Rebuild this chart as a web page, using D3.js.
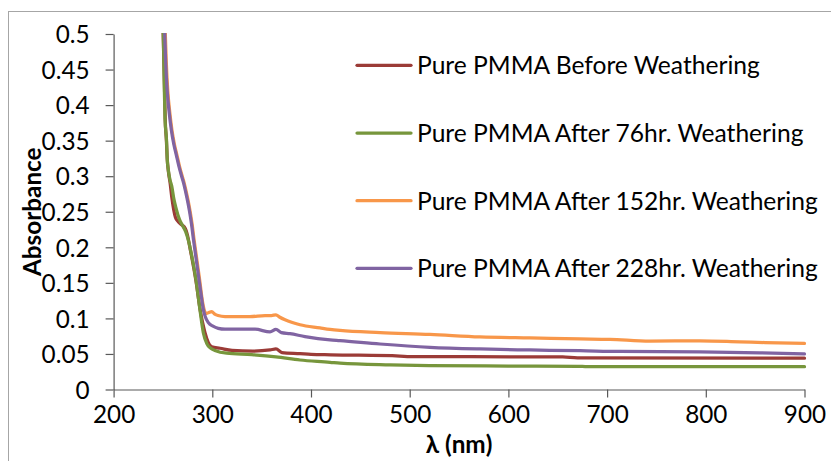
<!DOCTYPE html>
<html>
<head>
<meta charset="utf-8">
<script src="https://cdn.jsdelivr.net/npm/d3@7"></script>
<style>
  html, body { margin: 0; padding: 0; background: #fff; }
  svg { display: block; }
</style>
</head>
<body>
<svg id="chart" width="831" height="461"></svg>
<script>
// UV-Vis absorbance spectra of pure PMMA films, [wavelength nm, absorbance]
const pmmaBefore = [
  [248.5, 0.56], [250.2, 0.50], [251.5, 0.43], [252.3, 0.38], [253.5, 0.35],
  [254.3, 0.325], [255.5, 0.307], [257.3, 0.29], [259.0, 0.27], [262.7, 0.242],
  [265.5, 0.236], [268.5, 0.232], [271.5, 0.229], [273.4, 0.224], [275.0, 0.216],
  [277.8, 0.196], [283.3, 0.154], [287.7, 0.112], [292.6, 0.080], [296.0, 0.066],
  [299.4, 0.060], [307.8, 0.058], [320.0, 0.055], [341.2, 0.054], [358.5, 0.0556],
  [364.5, 0.057], [370.6, 0.052], [388.9, 0.0505], [400.0, 0.0495], [420.0, 0.0488],
  [490.0, 0.0470], [500.0, 0.0462], [622.0, 0.0460], [655.0, 0.0458], [670.0, 0.0445],
  [900.0, 0.0440]
];
const pmma76h = [
  [248.7, 0.56], [250.4, 0.50], [251.3, 0.43], [252.1, 0.38], [253.6, 0.351],
  [254.4, 0.323], [255.4, 0.309], [257.1, 0.295], [258.9, 0.286], [261.2, 0.267],
  [262.9, 0.257], [266.8, 0.239], [270.5, 0.229], [273.0, 0.222], [275.7, 0.210],
  [278.0, 0.196], [283.5, 0.154], [287.5, 0.112], [290.9, 0.080], [294.3, 0.065],
  [298.5, 0.058], [302.7, 0.055], [314.6, 0.051], [340.0, 0.049], [364.5, 0.046],
  [388.9, 0.0415], [419.3, 0.0383], [429.4, 0.037], [480.0, 0.0345], [520.0, 0.0335],
  [600.0, 0.033], [670.0, 0.0327], [680.0, 0.0322], [900.0, 0.0320]
];
const pmma152h = [
  [251.4, 0.56], [252.4, 0.50], [253.4, 0.46], [254.9, 0.42], [256.9, 0.39],
  [259.1, 0.365], [261.6, 0.345], [264.1, 0.33], [266.6, 0.315], [269.1, 0.302],
  [271.6, 0.29], [273.6, 0.278], [275.6, 0.265], [277.6, 0.25], [279.6, 0.232],
  [281.6, 0.21], [283.6, 0.19], [285.6, 0.17], [287.6, 0.15], [289.6, 0.128],
  [291.6, 0.113], [293.5, 0.107], [296.0, 0.108], [299.4, 0.1096], [302.5, 0.106],
  [305.8, 0.104], [312.9, 0.1025], [338.2, 0.1025], [353.4, 0.104], [360.0, 0.104],
  [364.5, 0.105], [368.0, 0.102], [373.7, 0.098], [388.9, 0.091], [409.1, 0.0866],
  [419.3, 0.0845], [429.4, 0.083], [470.0, 0.080], [520.5, 0.0775], [571.2, 0.074],
  [621.8, 0.0725], [672.5, 0.0712], [702.9, 0.0705], [743.4, 0.068], [794.0, 0.0685],
  [834.5, 0.067], [860.0, 0.066], [900.0, 0.0648]
];
const pmma228h = [
  [250.8, 0.56], [251.8, 0.50], [252.8, 0.46], [254.3, 0.42], [256.3, 0.39],
  [258.5, 0.365], [261.0, 0.345], [263.5, 0.33], [266.0, 0.315], [268.5, 0.302],
  [271.0, 0.29], [273.0, 0.278], [275.0, 0.265], [277.0, 0.25], [279.0, 0.232],
  [281.0, 0.21], [283.0, 0.19], [285.0, 0.17], [287.0, 0.15], [289.0, 0.13],
  [291.0, 0.112], [293.0, 0.102], [296.0, 0.094], [300.7, 0.089], [306.0, 0.086],
  [312.9, 0.0848], [343.3, 0.0848], [358.5, 0.081], [364.5, 0.0845], [370.0, 0.080],
  [378.7, 0.0785], [393.9, 0.0744], [419.3, 0.0697], [429.4, 0.0687], [469.9, 0.064],
  [520.5, 0.0594], [571.2, 0.057], [621.8, 0.0556], [672.5, 0.0546], [713.0, 0.0535],
  [794.0, 0.053], [854.8, 0.0515], [900.0, 0.050]
];

const seriesNames = [
  "Pure PMMA Before Weathering",
  "Pure PMMA After 76hr. Weathering",
  "Pure PMMA After 152hr. Weathering",
  "Pure PMMA After 228hr. Weathering"
];
const seriesColors = ["#9b3b37", "#77963c", "#f8974a", "#8064a2"];
const seriesData = [pmmaBefore, pmma76h, pmma152h, pmma228h];

const xTicks = [200, 300, 400, 500, 600, 700, 800, 900];
const yTicks = [0, 0.05, 0.1, 0.15, 0.2, 0.25, 0.3, 0.35, 0.4, 0.45, 0.5];
const xTitle = "λ (nm)";
const yTitle = "Absorbance";

// ---- layout ----
const W = 831, H = 461;
const plot = { left: 113.6, right: 804.5, top: 34, bottom: 389.5 };
const font = "Lato, 'Open Sans', 'DejaVu Sans', sans-serif";
const axisColor = "#595959";
const textSize = "24.3px";

const svg = d3.select("#chart");

// chart frame
svg.append("rect")
  .attr("x", 8.5).attr("y", 11.5)
  .attr("width", W + 10).attr("height", H + 10)
  .attr("fill", "#fff")
  .attr("stroke", "#a6a6a6").attr("stroke-width", 1);

const x = d3.scaleLinear().domain([200, 900]).range([plot.left, plot.right]);
const y = d3.scaleLinear().domain([0, 0.5]).range([plot.bottom, plot.top]);

svg.append("clipPath").attr("id", "plotClip")
  .append("rect")
  .attr("x", plot.left).attr("y", plot.top - 1)
  .attr("width", plot.right - plot.left + 2)
  .attr("height", plot.bottom - plot.top + 1);

// y axis
const yAxis = svg.append("g")
  .attr("transform", `translate(${plot.left},0)`)
  .call(d3.axisLeft(y).tickValues(yTicks).tickSize(8).tickSizeOuter(0)
    .tickPadding(16).tickFormat(d3.format("~g")));
// x axis
const xAxis = svg.append("g")
  .attr("transform", `translate(0,${plot.bottom})`)
  .call(d3.axisBottom(x).tickValues(xTicks).tickSize(8).tickSizeOuter(0)
    .tickPadding(8).tickFormat(d3.format("d")));

[yAxis, xAxis].forEach(g => {
  g.select(".domain").attr("stroke", axisColor).attr("stroke-width", 1.2);
  g.selectAll(".tick line").attr("stroke", axisColor).attr("stroke-width", 1.2);
  g.selectAll(".tick text")
    .attr("fill", "#000")
    .style("font-family", font)
    .style("font-size", textSize);
});
yAxis.selectAll(".tick text").attr("dy", "0.36em");

// series lines
const line = d3.line()
  .x(d => x(d[0]))
  .y(d => y(d[1]))
  .curve(d3.curveMonotoneX);

svg.append("g").attr("clip-path", "url(#plotClip)")
  .selectAll("path")
  .data(seriesData)
  .join("path")
  .attr("d", line)
  .attr("fill", "none")
  .attr("stroke", (d, i) => seriesColors[i])
  .attr("stroke-width", 3.25)
  .attr("stroke-linejoin", "round")
  .attr("stroke-linecap", "round");

// legend
const legendRows = [65.3, 133, 200.7, 268.3];
const legend = svg.append("g");
seriesNames.forEach((name, i) => {
  const row = legend.append("g").attr("transform", `translate(0,${legendRows[i]})`);
  row.append("line")
    .attr("x1", 357).attr("x2", 411)
    .attr("stroke", seriesColors[i])
    .attr("stroke-width", 3.25)
    .attr("stroke-linecap", "round");
  row.append("text")
    .attr("x", 417).attr("dy", "0.36em")
    .style("font-family", font)
    .style("font-size", "24.6px")
    .attr("fill", "#000")
    .text(name);
});

// axis titles
svg.append("text")
  .attr("transform", `translate(41,${(plot.top + plot.bottom) / 2}) rotate(-90)`)
  .attr("text-anchor", "middle")
  .style("font-family", font)
  .style("font-size", textSize)
  .style("font-weight", "bold")
  .text(yTitle);

svg.append("text")
  .attr("x", (plot.left + plot.right) / 2)
  .attr("y", 453)
  .attr("text-anchor", "middle")
  .style("font-family", font)
  .style("font-size", textSize)
  .style("font-weight", "bold")
  .text(xTitle);
</script>
</body>
</html>
